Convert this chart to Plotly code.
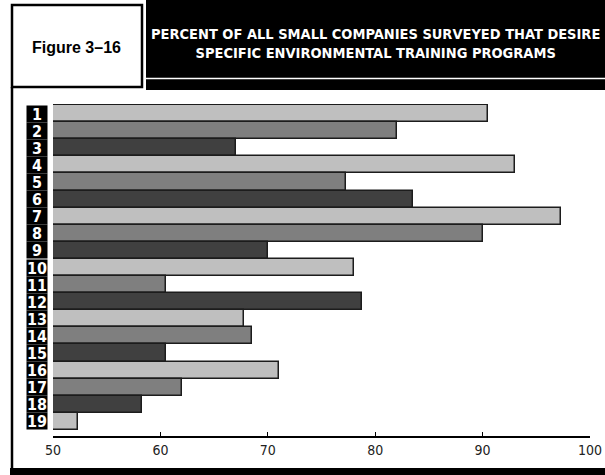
import plotly.graph_objects as go

# Survey results: percent of small companies wanting each training program
programs = [str(i) for i in range(1, 20)]
percent = [90.5, 82.0, 67.0, 93.0, 77.25, 83.5, 97.3, 90.0, 70.0, 78.0,
           60.5, 78.8, 67.75, 68.5, 60.5, 71.0, 62.0, 58.25, 52.3]
shade_cycle = ["#bfbfbf", "#7f7f7f", "#404040"]
x_ticks = [50, 60, 70, 80, 90, 100]
axis_min = 50

W, H = 605, 475
# plot area in pixels (left, right, top, bottom)
PL, PR, PT, PB = 53, 590, 104, 436

COND = "DejaVu Sans Condensed, Liberation Sans Narrow, Roboto, sans-serif"


def px_x(px):
    return px / W


def px_y(py):
    return 1 - py / H


rows = list(range(len(programs)))
colors = [shade_cycle[i % 3] for i in rows]

fig = go.Figure(go.Bar(
    y=rows,
    x=[v - axis_min for v in percent],
    base=axis_min,
    orientation="h",
    width=1.0,
    marker=dict(color=colors, line=dict(color="#1c1c1c", width=1.5)),
    customdata=percent,
    hovertemplate="Program %{y}: %{customdata}%<extra></extra>",
))

shapes = [
    # title banner
    dict(type="rect", xref="paper", yref="paper",
         x0=px_x(146), x1=px_x(605), y0=px_y(0), y1=px_y(77.7),
         fillcolor="black", line=dict(width=0)),
    dict(type="rect", xref="paper", yref="paper",
         x0=px_x(146), x1=px_x(605), y0=px_y(79.3), y1=px_y(90),
         fillcolor="black", line=dict(width=0)),
    # figure number box
    dict(type="rect", xref="paper", yref="paper",
         x0=px_x(12), x1=px_x(142), y0=px_y(5), y1=px_y(87),
         fillcolor="white", line=dict(color="black", width=2.5)),
    # panel left rule and bottom bar
    dict(type="line", xref="paper", yref="paper",
         x0=px_x(12), x1=px_x(12), y0=px_y(87), y1=px_y(468),
         line=dict(color="black", width=2.5)),
    dict(type="rect", xref="paper", yref="paper",
         x0=px_x(10), x1=px_x(605), y0=px_y(468), y1=px_y(475),
         fillcolor="black", line=dict(width=0)),
]

annotations = [
    dict(text="Figure 3–16", xref="paper", yref="paper",
         x=px_x(77), y=px_y(47), xanchor="center", yanchor="middle",
         showarrow=False,
         font=dict(family="Liberation Sans, Arial, sans-serif", size=16,
                   color="black", weight="bold")),
    dict(text="PERCENT OF ALL SMALL COMPANIES SURVEYED THAT DESIRE<br>"
              "SPECIFIC ENVIRONMENTAL TRAINING PROGRAMS",
         xref="paper", yref="paper", x=px_x(375), y=px_y(43),
         xanchor="center", yanchor="middle", showarrow=False, align="center",
         font=dict(family=COND, size=14.5, color="white", weight="bold")),
]

# numbered black label boxes beside each bar
for i, name in zip(rows, programs):
    annotations.append(dict(
        text=name, xref="paper", yref="y", x=px_x(37), y=i,
        xanchor="center", yanchor="middle", showarrow=False,
        width=20, height=16, bgcolor="black", borderpad=0, align="center",
        font=dict(family=COND, size=16, color="white", weight="bold"),
    ))

fig.update_layout(
    width=W, height=H,
    autosize=False,
    margin=dict(l=0, r=0, t=0, b=0, pad=0),
    paper_bgcolor="white", plot_bgcolor="white",
    showlegend=False,
    bargap=0,
    shapes=shapes,
    annotations=annotations,
    xaxis=dict(domain=[PL / W, PR / W], range=[50, 100], tickvals=x_ticks,
               ticks="inside", ticklen=4, tickwidth=1, tickcolor="black",
               showline=True, linecolor="black", linewidth=1.5,
               showgrid=False, zeroline=False, automargin=False,
               tickfont=dict(family=COND, size=14, color="#222222")),
    yaxis=dict(domain=[1 - PB / H, 1 - PT / H], range=[18.85, -0.56],
               showticklabels=False, ticks="", showgrid=False,
               zeroline=False, showline=False, automargin=False),
)

# keep the page exactly the figure's size, with no scrollbars
page_css = (
    "document.documentElement.style.overflow='hidden';"
    "document.body.style.overflow='hidden';"
    "document.body.style.margin='0';"
)

fig.write_html("out.html", post_script=page_css)
